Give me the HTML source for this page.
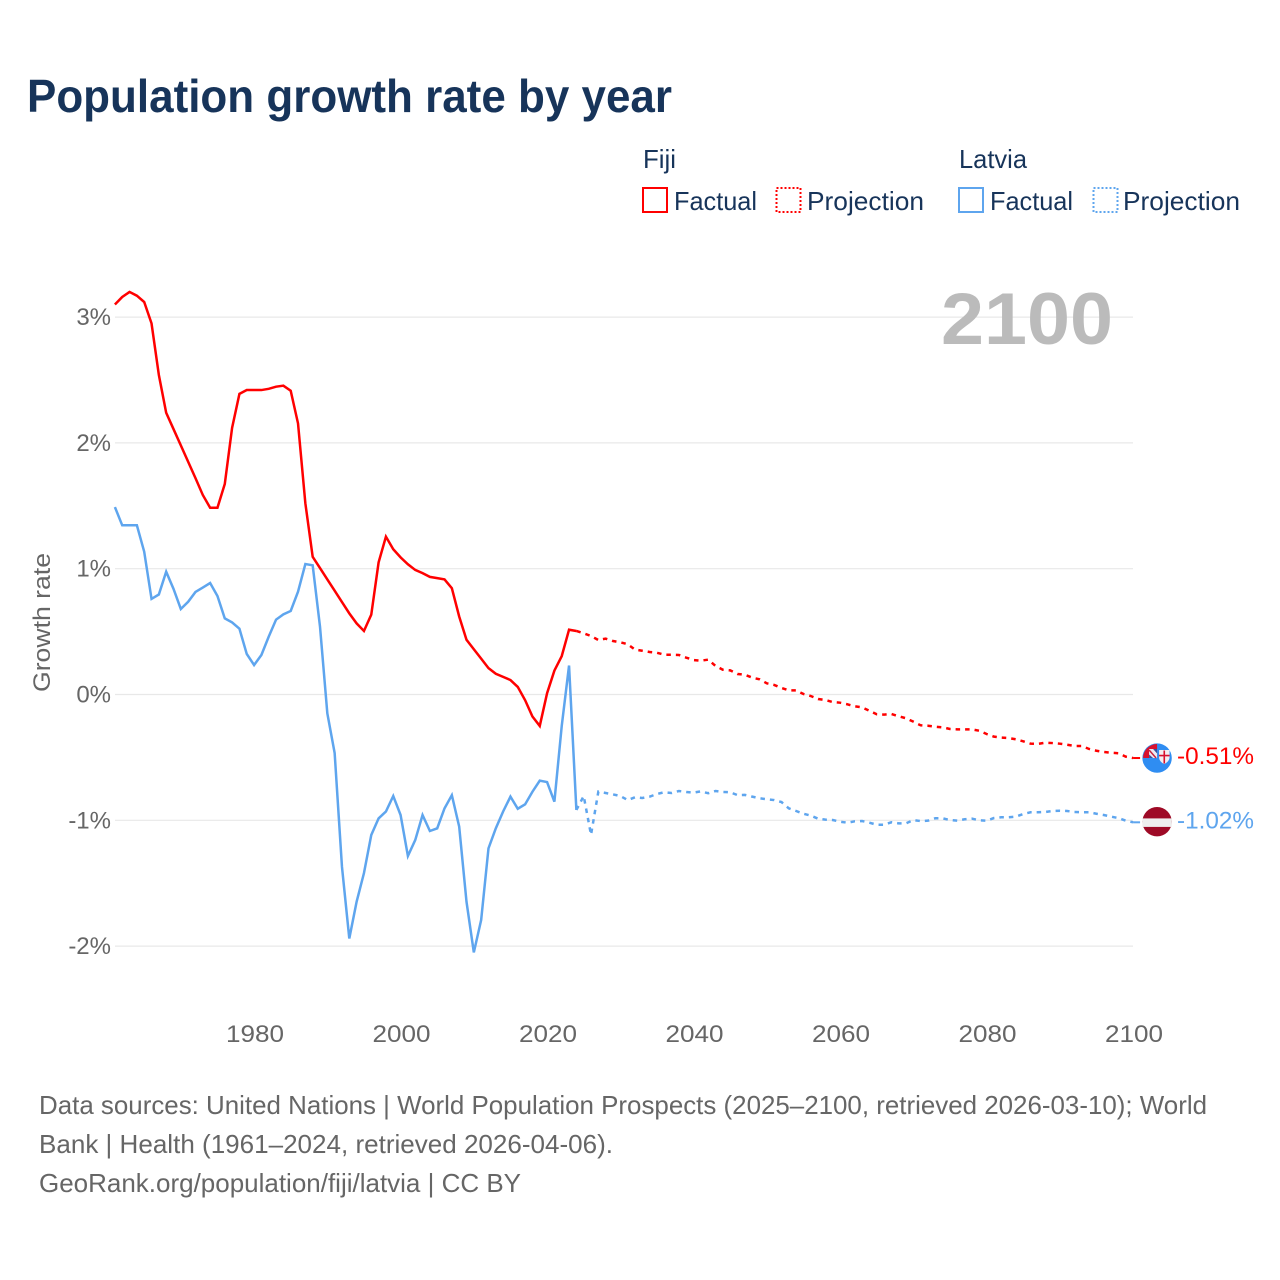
<!DOCTYPE html>
<html lang="en">
<head>
<meta charset="utf-8">
<title>Population growth rate by year</title>
<style>
html,body{margin:0;padding:0;background:#fff;}
svg{display:block;font-family:"Liberation Sans",sans-serif;}
</style>
</head>
<body>
<svg id="chart" xmlns="http://www.w3.org/2000/svg" width="1280" height="1280" viewBox="0 0 1280 1280">
  <rect width="1280" height="1280" fill="#fff"/>
  <text x="27" y="112" font-size="46" font-weight="bold" fill="#17345a" textLength="645" lengthAdjust="spacingAndGlyphs">Population growth rate by year</text>

  <g font-size="26" fill="#17345a">
    <text x="643" y="168" textLength="33" lengthAdjust="spacingAndGlyphs">Fiji</text>
    <text x="959" y="168" textLength="68" lengthAdjust="spacingAndGlyphs">Latvia</text>
    <g>
      <rect x="643" y="188" width="24" height="24" fill="none" stroke="#ff0000" stroke-width="2"/>
      <text x="674" y="210" textLength="83" lengthAdjust="spacingAndGlyphs">Factual</text>
    </g>
    <g>
      <rect x="776.500" y="188" width="24" height="24" fill="none" stroke="#ff0000" stroke-width="2" stroke-dasharray="2 2"/>
      <text x="807" y="210" textLength="117" lengthAdjust="spacingAndGlyphs">Projection</text>
    </g>
    <g>
      <rect x="959" y="188" width="24" height="24" fill="none" stroke="#5ea5ee" stroke-width="2"/>
      <text x="990" y="210" textLength="83" lengthAdjust="spacingAndGlyphs">Factual</text>
    </g>
    <g>
      <rect x="1093.500" y="188" width="24" height="24" fill="none" stroke="#5ea5ee" stroke-width="2" stroke-dasharray="2 2"/>
      <text x="1123" y="210" textLength="117" lengthAdjust="spacingAndGlyphs">Projection</text>
    </g>
  </g>

  <text transform="translate(50 622.500) rotate(-90)" text-anchor="middle" font-size="24" fill="#666" textLength="139" lengthAdjust="spacingAndGlyphs">Growth rate</text>

  <g id="grid"></g>
  <g id="yticks"></g>
  <g id="xticks"></g>

  <text x="941" y="344" font-size="73" font-weight="bold" fill="#bbbbbb" textLength="172" lengthAdjust="spacingAndGlyphs">2100</text>

  <g id="series"></g>

  <g id="fiji-end"></g>
  <g id="latvia-end"></g>

  <g font-size="26" fill="#666">
    <text x="39" y="1114" textLength="1168" lengthAdjust="spacingAndGlyphs">Data sources: United Nations | World Population Prospects (2025–2100, retrieved 2026-03-10); World</text>
    <text x="39" y="1153" textLength="574" lengthAdjust="spacingAndGlyphs">Bank | Health (1961–2024, retrieved 2026-04-06).</text>
    <text x="39" y="1192" textLength="482" lengthAdjust="spacingAndGlyphs">GeoRank.org/population/fiji/latvia | CC BY</text>
  </g>
</svg>

<script>
const factualStartYear = 1961;
const projectionStartYear = 2024;

const yTickValues = [3, 2, 1, 0, -1, -2];
const yTickLabels = ["3%", "2%", "1%", "0%", "-1%", "-2%"];
const xTickYears = [1980, 2000, 2020, 2040, 2060, 2080, 2100];
const xTickLabels = ["1980", "2000", "2020", "2040", "2060", "2080", "2100"];

const fijiEndLabel = "-0.51%";
const latviaEndLabel = "-1.02%";

const fijiFactual = [
  3.10, 3.16, 3.20, 3.17, 3.12, 2.95, 2.54, 2.24, 2.11, 1.98,
  1.85, 1.72, 1.586, 1.485, 1.485, 1.673, 2.12, 2.39, 2.42, 2.42,
  2.42, 2.43, 2.447, 2.455, 2.415, 2.155, 1.52, 1.095, 1.005, 0.915,
  0.825, 0.735, 0.645, 0.565, 0.505, 0.635, 1.05, 1.255, 1.155, 1.09,
  1.035, 0.99, 0.965, 0.935, 0.925, 0.915, 0.845, 0.62, 0.435, 0.36,
  0.285, 0.21, 0.165, 0.14, 0.115, 0.06, -0.045, -0.175, -0.25, 0.01,
  0.19, 0.305, 0.515, 0.505
];

const latviaFactual = [
  1.49, 1.345, 1.345, 1.345, 1.135, 0.76, 0.795, 0.976, 0.84, 0.68,
  0.737, 0.815, 0.85, 0.886, 0.783, 0.605, 0.573, 0.523, 0.322, 0.234,
  0.314, 0.46, 0.595, 0.637, 0.664, 0.817, 1.037, 1.027, 0.54, -0.15,
  -0.465, -1.37, -1.94, -1.647, -1.42, -1.117, -0.985, -0.93, -0.807, -0.958,
  -1.284, -1.157, -0.958, -1.085, -1.064, -0.905, -0.8, -1.05, -1.647, -2.05,
  -1.793, -1.223, -1.064, -0.93, -0.812, -0.908, -0.873, -0.773, -0.685, -0.696,
  -0.852, -0.25, 0.23, -0.918
];

const fijiProjection = [
  0.505, 0.486, 0.465, 0.433, 0.444, 0.425, 0.415, 0.40, 0.357, 0.348,
  0.338, 0.332, 0.316, 0.316, 0.314, 0.293, 0.274, 0.269, 0.277, 0.227,
  0.197, 0.192, 0.163, 0.157, 0.134, 0.121, 0.089, 0.076, 0.052, 0.033,
  0.033, 0.004, -0.012, -0.036, -0.044, -0.06, -0.065, -0.078, -0.094, -0.102,
  -0.129, -0.157, -0.16, -0.155, -0.173, -0.189, -0.216, -0.245, -0.248, -0.256,
  -0.261, -0.274, -0.277, -0.277, -0.277, -0.288, -0.314, -0.335, -0.343, -0.346,
  -0.356, -0.372, -0.391, -0.393, -0.383, -0.386, -0.391, -0.399, -0.409, -0.409,
  -0.433, -0.447, -0.457, -0.463, -0.467, -0.494, -0.505
];

const latviaProjection = [
  -0.918, -0.807, -1.115, -0.772, -0.783, -0.794, -0.807, -0.839, -0.817, -0.823,
  -0.812, -0.791, -0.777, -0.783, -0.767, -0.775, -0.78, -0.77, -0.785, -0.767,
  -0.775, -0.777, -0.80, -0.798, -0.812, -0.825, -0.833, -0.839, -0.855, -0.905,
  -0.926, -0.948, -0.963, -0.987, -0.995, -0.998, -1.011, -1.019, -1.008, -1.006,
  -1.019, -1.035, -1.035, -1.016, -1.024, -1.024, -0.998, -1.006, -1.003, -0.984,
  -0.984, -0.998, -1.003, -0.992, -0.987, -1.0, -1.003, -0.982, -0.976, -0.976,
  -0.971, -0.95, -0.936, -0.936, -0.934, -0.926, -0.924, -0.926, -0.934, -0.936,
  -0.936, -0.948, -0.958, -0.971, -0.982, -1.003, -1.016
];

const SVG_NS = "http://www.w3.org/2000/svg";
const xScale = year => 114.9 + (year - 1961) * 7.325;
const yScale = value => 694.5 - value * 125.8;

function makeEl(tag, attrs, parent) {
  const el = document.createElementNS(SVG_NS, tag);
  for (const key in attrs) el.setAttribute(key, attrs[key]);
  parent.appendChild(el);
  return el;
}

function pathFrom(values, startYear) {
  return values.map((v, i) =>
    (i ? "L" : "M") + xScale(startYear + i).toFixed(2) + " " + yScale(v).toFixed(2)
  ).join(" ");
}

const gridGroup = document.getElementById("grid");
const yTickGroup = document.getElementById("yticks");
yTickValues.forEach((value, i) => {
  const line = makeEl("line", {
    x1: 115, x2: 1133, y1: yScale(value), y2: yScale(value),
    stroke: "#e8e8e8", "stroke-width": 1.2
  }, gridGroup);
  
  
  const label = makeEl("text", {
    x: 111, y: yScale(value) + 8, "text-anchor": "end",
    "font-size": 24, fill: "#666"
  }, yTickGroup);
  label.textContent = yTickLabels[i];
  
  
});

const xTickGroup = document.getElementById("xticks");
xTickYears.forEach((year, i) => {
  const label = makeEl("text", {
    x: xScale(year) + 1, y: 1042, "text-anchor": "middle",
    "font-size": 24, fill: "#666",
    textLength: 58, lengthAdjust: "spacingAndGlyphs"
  }, xTickGroup);
  label.textContent = xTickLabels[i];
  
  
});

const seriesGroup = document.getElementById("series");

const fijiFactualLine = makeEl("path", {
  d: pathFrom(fijiFactual, factualStartYear), fill: "none", stroke: "#ff0000",
  "stroke-width": 2.5, "stroke-linejoin": "miter"
}, seriesGroup);



const fijiProjectionLine = makeEl("path", {
  d: pathFrom(fijiProjection, projectionStartYear), fill: "none", stroke: "#ff0000",
  "stroke-width": 2.5, "stroke-dasharray": "4.5 5"
}, seriesGroup);



const latviaFactualLine = makeEl("path", {
  d: pathFrom(latviaFactual, factualStartYear), fill: "none", stroke: "#5ea5ee",
  "stroke-width": 2.5, "stroke-linejoin": "miter"
}, seriesGroup);



const latviaProjectionLine = makeEl("path", {
  d: pathFrom(latviaProjection, projectionStartYear), fill: "none", stroke: "#5ea5ee",
  "stroke-width": 2.5, "stroke-dasharray": "4.5 5"
}, seriesGroup);



/* End markers follow the last projected value of each series */
const endX = xScale(2100) + 24;
const fijiEndY = yScale(fijiProjection[fijiProjection.length - 1]);
const latviaEndY = yScale(latviaProjection[latviaProjection.length - 1]) - 0.6;

const fijiEnd = document.getElementById("fiji-end");
const fijiDash = makeEl("line", {
  x1: xScale(2100), x2: endX - 17, y1: fijiEndY, y2: fijiEndY, stroke: "#ff0000", "stroke-width": 2
}, fijiEnd);



const fijiFlag = makeEl("g", { transform: "translate(" + endX + " " + fijiEndY + ")" }, fijiEnd);


makeEl("circle", { r: 14.7, fill: "#2f8df2" }, fijiFlag);
makeEl("path", { d: "M-14 0 A14 14 0 0 1 0 -14 L0 0 Z", fill: "#d8112e" }, fijiFlag);
makeEl("rect", { x: -8, y: -9, width: 8, height: 9, fill: "#ecebf2" }, fijiFlag);
makeEl("path", { d: "M-8 -8 L-1 0", stroke: "#c9243c", "stroke-width": 1.5 }, fijiFlag);
makeEl("path", { d: "M-8 -3.500 L-4 0 L-8 0 Z M-4 -9 L0 -4.500 L0 -9 Z", fill: "#3a4f9c" }, fijiFlag);
makeEl("path", { d: "M2 -8 H12.500 V-1 C12.500 3 9 5 7.200 6 C5 5 2 3 2 -1 Z", fill: "#f3eef0" }, fijiFlag);
makeEl("path", { d: "M7.200 -7.500 V5.500 M2 -2.500 H12.500", stroke: "#d8112e", "stroke-width": 1.6 }, fijiFlag);

const fijiLabel = makeEl("text", {
  x: 1177, y: fijiEndY + 6, "font-size": 24, fill: "#ff0000",
  textLength: 77, lengthAdjust: "spacingAndGlyphs"
}, fijiEnd);
fijiLabel.textContent = fijiEndLabel;



const latviaEnd = document.getElementById("latvia-end");
const latviaDash = makeEl("line", {
  x1: xScale(2100), x2: endX - 17, y1: latviaEndY + 0.6, y2: latviaEndY + 0.6, stroke: "#5ea5ee", "stroke-width": 2
}, latviaEnd);



const latviaFlag = makeEl("g", { transform: "translate(" + endX + " " + latviaEndY + ")" }, latviaEnd);


makeEl("circle", { r: 14.7, fill: "#9e0a26" }, latviaFlag);
makeEl("rect", { x: -14.700, y: -3.300, width: 29.400, height: 8.500, fill: "#eeeeee" }, latviaFlag);

const latviaLabel = makeEl("text", {
  x: 1177, y: latviaEndY + 7, "font-size": 24, fill: "#5ea5ee",
  textLength: 77, lengthAdjust: "spacingAndGlyphs"
}, latviaEnd);
latviaLabel.textContent = latviaEndLabel;


</script>
</body>
</html>
